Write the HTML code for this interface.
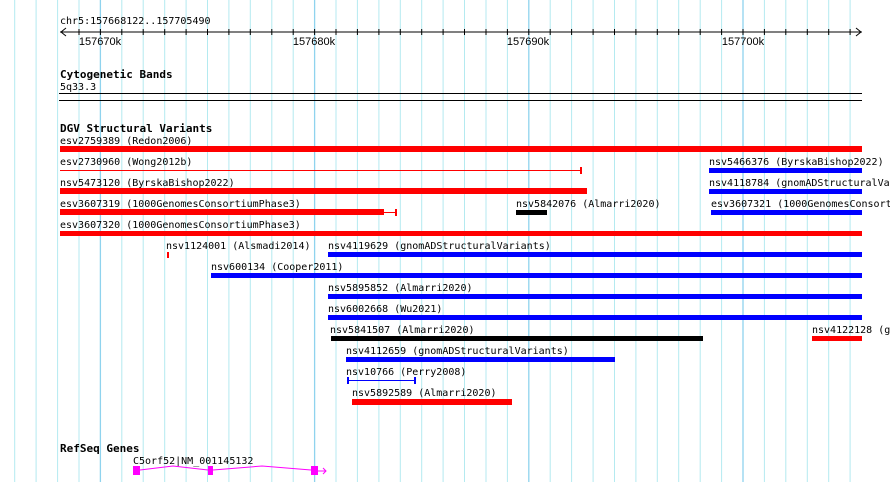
<!DOCTYPE html>
<html><head><meta charset="utf-8"><style>
html,body{margin:0;padding:0;width:890px;height:482px;overflow:hidden;background:#fff}
text{font-family:"DejaVu Sans Mono","Liberation Mono",monospace;font-size:10px;fill:#000}
.b{font-weight:bold;font-size:11px}
.r{font-family:"Liberation Sans","DejaVu Sans",sans-serif;font-size:11px}
</style></head><body>
<svg width="890" height="482" xmlns="http://www.w3.org/2000/svg">
<path stroke="#b4eaf0" stroke-width="1" fill="none" d="M14.7 0V482M36.1 0V482M57.6 0V482M79 0V482M121.8 0V482M143.2 0V482M164.7 0V482M186.1 0V482M207.5 0V482M228.9 0V482M250.3 0V482M271.8 0V482M293.2 0V482M336 0V482M357.4 0V482M378.9 0V482M400.3 0V482M421.7 0V482M443.1 0V482M464.5 0V482M486 0V482M507.4 0V482M550.2 0V482M571.6 0V482M593.1 0V482M614.5 0V482M635.9 0V482M657.3 0V482M678.7 0V482M700.2 0V482M721.6 0V482M764.4 0V482M785.8 0V482M807.3 0V482M828.7 0V482M850.1 0V482"/>
<path stroke="#8fd3ee" stroke-width="1.3" fill="none" d="M100.4 0V482M314.6 0V482M528.8 0V482M743 0V482"/>
<path stroke="#000" stroke-width="1" fill="none" d="M79 29V35M100.4 29V35M121.8 29V35M143.2 29V35M164.7 29V35M186.1 29V35M207.5 29V35M228.9 29V35M250.3 29V35M271.8 29V35M293.2 29V35M314.6 29V35M336 29V35M357.4 29V35M378.9 29V35M400.3 29V35M421.7 29V35M443.1 29V35M464.5 29V35M486 29V35M507.4 29V35M528.8 29V35M550.2 29V35M571.6 29V35M593.1 29V35M614.5 29V35M635.9 29V35M657.3 29V35M678.7 29V35M700.2 29V35M721.6 29V35M743 29V35M764.4 29V35M785.8 29V35M807.3 29V35M828.7 29V35M850.1 29V35"/>
<text x="60" y="24">chr5:157668122..157705490</text>
<line x1="60" y1="32" x2="862" y2="32" stroke="#000"/>
<polyline points="66,28 61,32 66,36" fill="none" stroke="#000"/>
<polyline points="856,28 861,32 856,36" fill="none" stroke="#000"/>
<text class="r" x="100" y="45" text-anchor="middle">157670k</text>
<text class="r" x="314" y="45" text-anchor="middle">157680k</text>
<text class="r" x="528" y="45" text-anchor="middle">157690k</text>
<text class="r" x="743" y="45" text-anchor="middle">157700k</text>
<text class="b" x="60" y="78">Cytogenetic Bands</text>
<text x="60" y="90">5q33.3</text>
<line x1="59" y1="93.5" x2="862" y2="93.5" stroke="#000"/>
<line x1="59" y1="100.5" x2="862" y2="100.5" stroke="#000"/>
<text class="b" x="60" y="132">DGV Structural Variants</text>
<g>
<text x="60" y="144">esv2759389 (Redon2006)</text>
<rect x="60" y="146" width="802" height="6" fill="#f00"/>
<text x="60" y="165">esv2730960 (Wong2012b)</text>
<line x1="60" y1="170.5" x2="581" y2="170.5" stroke="#f00"/>
<line x1="581" y1="167" x2="581" y2="174" stroke="#f00" stroke-width="2"/>
<text x="709" y="165">nsv5466376 (ByrskaBishop2022)</text>
<rect x="709" y="168" width="153" height="5" fill="#00f"/>
<text x="60" y="186">nsv5473120 (ByrskaBishop2022)</text>
<rect x="60" y="188" width="527" height="6" fill="#f00"/>
<text x="709" y="186">nsv4118784 (gnomADStructuralVariants)</text>
<rect x="709" y="189" width="153" height="5" fill="#00f"/>
<text x="60" y="207">esv3607319 (1000GenomesConsortiumPhase3)</text>
<rect x="60" y="209" width="324" height="6" fill="#f00"/>
<line x1="384" y1="212.5" x2="396" y2="212.5" stroke="#f00"/>
<line x1="396" y1="209" x2="396" y2="216" stroke="#f00" stroke-width="2"/>
<text x="516" y="207">nsv5842076 (Almarri2020)</text>
<rect x="516" y="210" width="31" height="5" fill="#000"/>
<text x="711" y="207">esv3607321 (1000GenomesConsortiumPhase3)</text>
<rect x="711" y="210" width="151" height="5" fill="#00f"/>
<text x="60" y="228">esv3607320 (1000GenomesConsortiumPhase3)</text>
<rect x="60" y="231" width="802" height="5" fill="#f00"/>
<text x="166" y="249">nsv1124001 (Alsmadi2014)</text>
<rect x="167" y="252" width="2" height="6" fill="#f00"/>
<text x="328" y="249">nsv4119629 (gnomADStructuralVariants)</text>
<rect x="328" y="252" width="534" height="5" fill="#00f"/>
<text x="211" y="270">nsv600134 (Cooper2011)</text>
<rect x="211" y="273" width="651" height="5" fill="#00f"/>
<text x="328" y="291">nsv5895852 (Almarri2020)</text>
<rect x="328" y="294" width="534" height="5" fill="#00f"/>
<text x="328" y="312">nsv6002668 (Wu2021)</text>
<rect x="328" y="315" width="534" height="5" fill="#00f"/>
<text x="330" y="333">nsv5841507 (Almarri2020)</text>
<rect x="331" y="336" width="372" height="5" fill="#000"/>
<text x="812" y="333">nsv4122128 (gnomADStructuralVariants)</text>
<rect x="812" y="336" width="50" height="5" fill="#f00"/>
<text x="346" y="354">nsv4112659 (gnomADStructuralVariants)</text>
<rect x="346" y="357" width="269" height="5" fill="#00f"/>
<text x="346" y="375">nsv10766 (Perry2008)</text>
<line x1="347" y1="380.5" x2="415" y2="380.5" stroke="#00f"/>
<line x1="348" y1="377" x2="348" y2="384" stroke="#00f" stroke-width="2"/>
<line x1="415" y1="377" x2="415" y2="384" stroke="#00f" stroke-width="2"/>
<text x="352" y="396">nsv5892589 (Almarri2020)</text>
<rect x="352" y="399" width="160" height="6" fill="#f00"/>
</g>
<text class="b" x="60" y="452">RefSeq Genes</text>
<text x="133" y="464">C5orf52|NM_001145132</text>
<polyline points="140,470 173,466 208,470" fill="none" stroke="#f0f"/>
<polyline points="213,470 262,466 311,470" fill="none" stroke="#f0f"/>
<line x1="318" y1="471" x2="326" y2="471" stroke="#f0f"/>
<polyline points="323,468 326,471 323,474" fill="none" stroke="#f0f"/>
<rect x="133" y="466" width="7" height="9" fill="#f0f"/>
<rect x="208" y="466" width="5" height="9" fill="#f0f"/>
<rect x="311" y="466" width="7" height="9" fill="#f0f"/>
</svg>
</body></html>
